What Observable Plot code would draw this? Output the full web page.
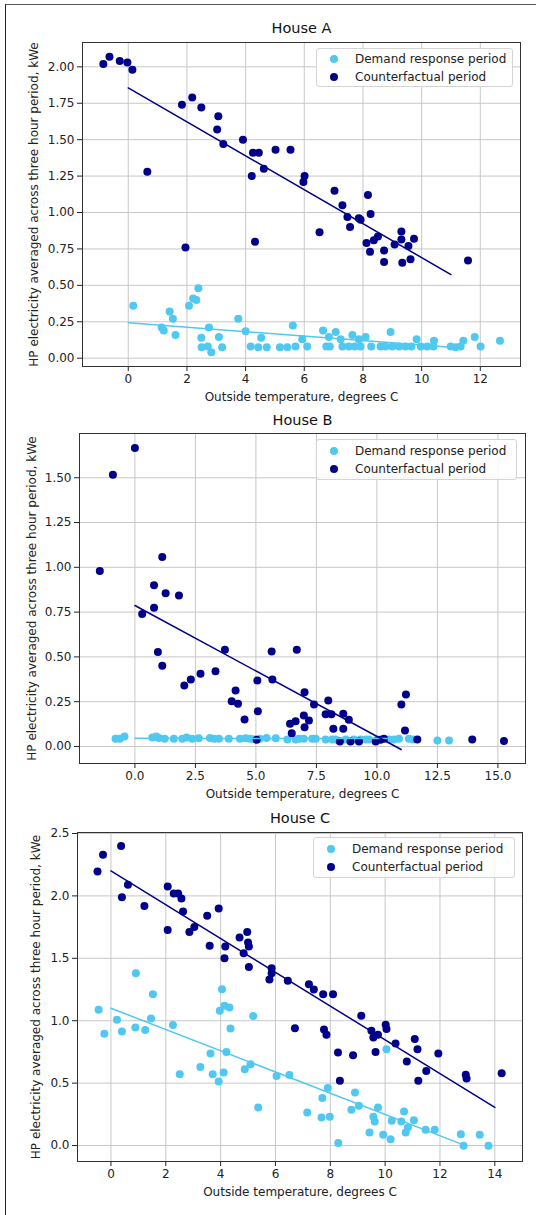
<!DOCTYPE html>
<html><head><meta charset="utf-8">
<script src="https://cdn.jsdelivr.net/npm/d3@7"></script>
<script src="https://cdn.jsdelivr.net/npm/@observablehq/plot@0.6"></script>
<style>
body{margin:0;background:#fff;font-family:"DejaVu Sans",sans-serif;}
#page{position:relative;width:536px;height:1215px;overflow:hidden;background:#fff;}
.band{position:absolute;left:0;}
.frame{position:absolute;left:5px;top:4px;width:700px;height:1400px;border-top:1.5px solid #555;border-left:1.5px solid #222;pointer-events:none;}
.legend{position:absolute;border:1px solid #d4d4d4;border-radius:3px;background:rgba(255,255,255,0.85);box-sizing:border-box;}
.ldot{position:absolute;width:8px;height:8px;border-radius:50%;}
.ltxt{position:absolute;font-size:12px;color:#222;line-height:14px;white-space:nowrap;}
</style>
</head><body>
<div id="page"><div class="frame"></div></div>
<script>
const LIGHT = "#50c8f0";
const DARK = "#00008b";
const seriesLabels = ["Demand response period", "Counterfactual period"];
const xLabel = "Outside temperature, degrees C";
const yLabel = "HP electricity averaged across three hour period, kWe";

// ---------- House A ----------
const A_titles = "House A";
const A_xTicks = [0, 2, 4, 6, 8, 10, 12];
const A_yTicks = [0, 0.25, 0.5, 0.75, 1.0, 1.25, 1.5, 1.75, 2.0];
const A_light = [[0.17,0.36],[1.14,0.21],[1.21,0.19],[1.41,0.32],[1.52,0.27],[1.61,0.16],[2.07,0.36],[2.21,0.41],[2.32,0.40],[2.39,0.48],[2.49,0.14],[2.50,0.075],[2.75,0.21],[2.71,0.08],[2.83,0.04],[3.09,0.145],[3.20,0.075],[3.75,0.27],[4.00,0.185],[4.17,0.08],[4.43,0.075],[4.53,0.14],[4.72,0.075],[5.17,0.075],[5.42,0.075],[5.61,0.225],[5.70,0.08],[5.93,0.13],[6.10,0.08],[6.64,0.19],[6.75,0.08],[6.87,0.08],[6.84,0.145],[7.07,0.18],[7.24,0.13],[7.30,0.08],[7.52,0.08],[7.64,0.16],[7.72,0.08],[7.86,0.13],[7.92,0.08],[8.09,0.145],[8.28,0.08],[8.60,0.08],[8.77,0.08],[8.94,0.18],[9.00,0.08],[9.23,0.08],[9.45,0.08],[9.65,0.08],[9.83,0.13],[9.97,0.08],[10.19,0.08],[10.42,0.12],[10.40,0.08],[10.99,0.08],[11.16,0.075],[11.33,0.08],[11.42,0.12],[11.81,0.145],[12.01,0.08],[12.67,0.12]];
const A_dark = [[-0.85,2.02],[-0.64,2.07],[-0.29,2.04],[-0.03,2.03],[0.14,1.98],[0.65,1.28],[1.83,1.74],[2.18,1.79],[2.49,1.72],[3.07,1.66],[3.03,1.57],[3.24,1.47],[3.91,1.50],[4.25,1.41],[4.45,1.41],[4.21,1.25],[4.62,1.30],[5.02,1.43],[5.53,1.43],[6.01,1.25],[5.97,1.21],[7.03,1.15],[8.17,1.12],[7.30,1.05],[7.47,0.97],[8.26,0.99],[7.86,0.96],[7.92,0.95],[6.52,0.865],[7.56,0.90],[8.12,0.79],[8.24,0.73],[8.37,0.81],[8.51,0.835],[8.72,0.74],[8.72,0.66],[9.08,0.78],[9.31,0.87],[9.31,0.815],[9.34,0.655],[9.55,0.77],[9.62,0.68],[9.74,0.82],[11.58,0.67],[1.95,0.76],[4.32,0.80]];
const A_lightFit = [[0,0.243],[11,0.075]];
const A_darkFit = [[0,1.855],[11,0.574]];

// ---------- House B ----------
const B_titles = "House B";
const B_xTicks = [0, 2.5, 5, 7.5, 10, 12.5, 15];
const B_yTicks = [0, 0.25, 0.5, 0.75, 1.0, 1.25, 1.5];
const B_light = [[-0.80,0.043],[-0.62,0.043],[-0.43,0.056],[0.72,0.05],[0.88,0.056],[0.99,0.048],[1.23,0.043],[1.61,0.043],[1.96,0.043],[2.14,0.05],[2.37,0.043],[2.64,0.046],[3.10,0.048],[3.27,0.043],[3.47,0.043],[3.88,0.043],[4.34,0.043],[4.57,0.046],[4.75,0.043],[4.91,0.04],[5.16,0.043],[5.44,0.048],[5.82,0.046],[6.30,0.039],[6.64,0.039],[6.78,0.043],[6.98,0.043],[7.33,0.043],[7.47,0.043],[7.88,0.039],[8.16,0.039],[8.29,0.039],[8.71,0.039],[9.05,0.039],[9.33,0.039],[9.53,0.039],[9.67,0.039],[10.02,0.039],[10.5,0.039],[10.7,0.039],[10.91,0.043],[11.32,0.043],[11.5,0.039],[12.5,0.033],[12.98,0.033]];
const B_dark = [[0,1.666],[-0.91,1.517],[-1.45,0.98],[1.13,1.057],[0.79,0.90],[1.27,0.856],[1.82,0.843],[0.30,0.74],[0.79,0.775],[0.95,0.527],[1.13,0.45],[2.04,0.34],[2.31,0.374],[2.71,0.406],[3.33,0.42],[3.72,0.54],[4.00,0.253],[4.16,0.313],[4.26,0.238],[4.53,0.151],[5.06,0.368],[5.08,0.197],[5.03,0.037],[5.65,0.53],[5.68,0.374],[6.69,0.54],[6.41,0.127],[6.64,0.141],[6.48,0.074],[7.01,0.303],[7.99,0.257],[7.40,0.234],[6.98,0.173],[7.19,0.145],[7.01,0.108],[7.88,0.18],[8.12,0.18],[8.61,0.183],[8.84,0.149],[8.20,0.099],[8.61,0.099],[8.47,0.028],[8.91,0.028],[9.26,0.028],[9.95,0.028],[10.15,0.037],[10.29,0.043],[11.01,0.234],[11.20,0.29],[11.16,0.089],[11.67,0.039],[13.94,0.039],[15.25,0.03]];
const B_lightFit = [[0,0.046],[11,0.044]];
const B_darkFit = [[0,0.787],[11,-0.017]];

// ---------- House C ----------
const C_titles = "House C";
const C_xTicks = [0, 2, 4, 6, 8, 10, 12, 14];
const C_yTicks = [0, 0.5, 1.0, 1.5, 2.0, 2.5];
const C_light = [[0.91,1.38],[1.53,1.213],[4.05,1.253],[-0.45,1.087],[-0.24,0.895],[0.22,1.007],[0.40,0.914],[0.89,0.946],[1.25,0.925],[1.46,1.018],[2.26,0.965],[2.51,0.572],[3.26,0.63],[3.63,0.737],[3.71,0.572],[3.93,0.513],[3.97,1.08],[4.14,1.12],[4.32,1.106],[4.11,0.585],[4.36,0.938],[4.21,0.75],[4.88,0.612],[5.09,0.652],[5.19,1.037],[5.37,0.305],[6.04,0.558],[6.51,0.566],[7.16,0.264],[7.71,0.38],[7.91,0.46],[7.68,0.224],[7.98,0.23],[8.29,0.02],[8.90,0.425],[8.77,0.286],[9.04,0.318],[9.43,0.104],[9.57,0.23],[9.62,0.192],[9.74,0.305],[9.93,0.086],[10.05,0.772],[10.20,0.051],[10.24,0.198],[10.59,0.192],[10.69,0.272],[10.75,0.104],[10.83,0.144],[11.05,0.203],[11.48,0.126],[11.81,0.126],[12.76,0.091],[12.86,-0.002],[13.45,0.086],[13.77,-0.002]];
const C_dark = [[-0.49,2.196],[-0.29,2.33],[0.37,2.40],[0.62,2.09],[0.40,1.99],[1.22,1.92],[2.07,2.075],[2.29,2.02],[2.45,2.02],[2.57,1.98],[2.63,1.875],[2.07,1.726],[2.86,1.71],[3.04,1.75],[3.51,1.84],[3.60,1.60],[3.93,1.90],[4.17,1.595],[4.14,1.50],[4.69,1.667],[4.97,1.71],[5.00,1.627],[5.03,1.595],[4.84,1.54],[5.03,1.43],[5.86,1.42],[5.86,1.38],[5.78,1.33],[6.45,1.32],[7.22,1.293],[7.40,1.25],[7.74,1.213],[8.10,1.213],[6.71,0.94],[7.77,0.93],[7.86,0.887],[8.28,0.745],[8.35,0.518],[8.83,0.724],[9.13,1.04],[9.50,0.92],[9.57,0.865],[9.74,0.887],[9.65,0.75],[10.02,0.967],[10.05,0.933],[10.38,0.817],[10.79,0.673],[11.08,0.853],[11.18,0.772],[11.50,0.598],[11.21,0.518],[11.94,0.737],[12.94,0.567],[12.97,0.537],[14.25,0.58]];
const C_lightFit = [[0,1.10],[12.86,0.005]];
const C_darkFit = [[0,2.20],[14,0.305]];

// layout (positions only)
const panels = [
  {title: A_titles, light: A_light, dark: A_dark, lightFit: A_lightFit, darkFit: A_darkFit,
   xTicks: A_xTicks, yTicks: A_yTicks, xFmt: d3.format("d"), yFmt: d3.format(".2f"),
   xDomain: [-1.56, 13.37], yDomain: [-0.057, 2.167],
   top: 0, height: 405, mt: 42, mb: 39, ml: 82, mr: 16, titleDy: -14, yLabDx: -48,
   legend: {left: 316, top: 48, w: 197, h: 39}},
  {title: B_titles, light: B_light, dark: B_dark, lightFit: B_lightFit, darkFit: B_darkFit,
   xTicks: B_xTicks, yTicks: B_yTicks, xFmt: d3.format(".1f"), yFmt: d3.format(".2f"),
   xDomain: [-2.29, 16.14], yDomain: [-0.095, 1.747],
   top: 405, height: 397, mt: 28, mb: 39, ml: 79, mr: 11, titleDy: -13, yLabDx: -47,
   legend: {left: 316, top: 439, w: 201, h: 41}},
  {title: C_titles, light: C_light, dark: C_dark, lightFit: C_lightFit, darkFit: C_darkFit,
   xTicks: C_xTicks, yTicks: C_yTicks, xFmt: d3.format("d"), yFmt: d3.format(".1f"),
   xDomain: [-1.22, 15.01], yDomain: [-0.128, 2.508],
   top: 802, height: 413, mt: 30, mb: 54, ml: 77, mr: 14, titleDy: -14, yLabDx: -41,
   legend: {left: 313, top: 837, w: 202, h: 41}}
];

const page = document.getElementById("page");
const pt = d => ({x: d[0], y: d[1]});

for (const p of panels) {
  const chart = Plot.plot({
    width: 536, height: p.height,
    marginTop: p.mt, marginBottom: p.mb, marginLeft: p.ml, marginRight: p.mr,
    style: {fontFamily: "DejaVu Sans, sans-serif", fontSize: "12px", color: "#222", background: "transparent", overflow: "visible"},
    x: {domain: p.xDomain, ticks: p.xTicks, tickFormat: p.xFmt, label: null, tickSize: 5, tickPadding: 3},
    y: {domain: p.yDomain, ticks: p.yTicks, tickFormat: p.yFmt, label: null, tickSize: 5, tickPadding: 3},
    marks: [
      Plot.ruleX(p.xTicks, {stroke: "#c8c8c8", strokeWidth: 1}),
      Plot.ruleY(p.yTicks, {stroke: "#c8c8c8", strokeWidth: 1}),
      Plot.dot(p.light.map(pt), {x: "x", y: "y", r: 4, fill: LIGHT}),
      Plot.dot(p.dark.map(pt), {x: "x", y: "y", r: 4, fill: DARK}),
      Plot.line(p.lightFit.map(pt), {x: "x", y: "y", stroke: LIGHT, strokeWidth: 1.5}),
      Plot.line(p.darkFit.map(pt), {x: "x", y: "y", stroke: DARK, strokeWidth: 1.5}),
      Plot.frame({stroke: "#333", strokeWidth: 1}),
      Plot.text([p.title], {frameAnchor: "top", lineAnchor: "middle", textAnchor: "middle", dy: p.titleDy, fontSize: 14.5, fill: "#111", text: d => d}),
      Plot.text([xLabel], {frameAnchor: "bottom", lineAnchor: "middle", textAnchor: "middle", dy: 31, fontSize: 12, fill: "#222", text: d => d}),
      Plot.text([yLabel], {frameAnchor: "left", lineAnchor: "middle", textAnchor: "middle", dx: p.yLabDx, rotate: -90, fontSize: 12, fill: "#222", text: d => d})
    ]
  });
  const band = document.createElement("div");
  band.className = "band";
  band.style.top = p.top + "px";
  band.appendChild(chart);
  page.appendChild(band);

  const lg = document.createElement("div");
  lg.className = "legend";
  Object.assign(lg.style, {left: p.legend.left + "px", top: p.legend.top + "px", width: p.legend.w + "px", height: p.legend.h + "px"});
  [LIGHT, DARK].forEach((c, i) => {
    const rowY = p.legend.h / 2 + (i === 0 ? -9.5 : 8.5);
    const dot = document.createElement("div");
    dot.className = "ldot";
    Object.assign(dot.style, {background: c, left: (17 - 4) + "px", top: (rowY - 4) + "px"});
    const t = document.createElement("div");
    t.className = "ltxt";
    t.textContent = seriesLabels[i];
    Object.assign(t.style, {left: "38px", top: (rowY - 7.5) + "px"});
    lg.appendChild(dot); lg.appendChild(t);
  });
  page.appendChild(lg);
}
</script>
</body></html>
